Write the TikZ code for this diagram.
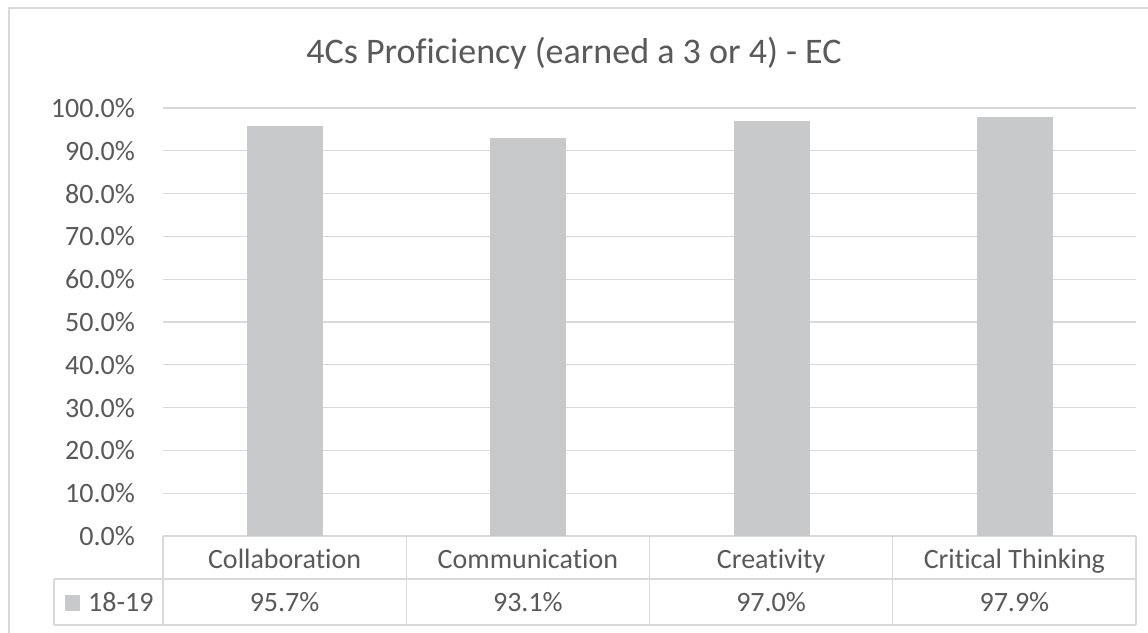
\documentclass[tikz,border=0pt]{standalone}
\usepackage{fontspec}
\setmainfont{Carlito}[Ligatures={NoCommon,NoContextual}]
\usepackage{tikz}
\definecolor{txtgray}{HTML}{595959}
\definecolor{gridgray}{HTML}{D9D9D9}
\definecolor{bargray}{HTML}{C8C9CB}
\tikzset{lbl/.style={text=txtgray,font=\fontsize{28}{30}\selectfont,inner sep=0pt},
  gline/.style={gridgray,line width=1.3pt}}

\begin{document}
\begin{tikzpicture}[x=1pt,y=-1pt]
\useasboundingbox (0,0) rectangle (1148,632);
\fill[white] (0,0) rectangle (1148,632);
\draw[gridgray,line width=1.6pt] (9,640) -- (9,8) -- (1160,8);
% title
\node[lbl,font=\fontsize{36}{40}\selectfont,anchor=base] (title) at (574,63) {4Cs Proficiency (earned a 3 or 4) - EC};
% grid and ticks
\foreach \v in {0,10,...,100} {
  \draw[gline] (163,{536-4.28*\v}) -- (1136,{536-4.28*\v});
  \node[lbl,anchor=east] (tick\v) at (135,{536-4.28*\v}) {\v.0\%};
}
% bars
\fill[bargray] (247,536) rectangle (323,{536-4.28*95.7});
\fill[bargray] (490.25,536) rectangle (566.25,{536-4.28*93.1});
\fill[bargray] (733.5,536) rectangle (809.5,{536-4.28*97.0});
\fill[bargray] (976.75,536) rectangle (1052.75,{536-4.28*97.9});
% data table
\draw[gline] (54,579) -- (1136,579);
\draw[gline] (54,625) -- (1136,625);
\draw[gline] (54,579) -- (54,625);
\draw[gline] (163,536) -- (163,625);
\draw[gline] (406.25,536) -- (406.25,625);
\draw[gline] (649.5,536) -- (649.5,625);
\draw[gline] (892.75,536) -- (892.75,625);
\draw[gline] (1136,536) -- (1136,625);
\node[lbl,anchor=base] (collab) at (284.6,568) {Collaboration};
\node[lbl,anchor=base] (commun) at (527.9,568) {Communication};
\node[lbl,anchor=base] (creat) at (771.1,568) {Creativity};
\node[lbl,anchor=base] (critic) at (1014.4,568) {Critical Thinking};
\fill[bargray] (65,595) rectangle (80,611);
\node[lbl,anchor=base west] (series) at (88,611) {18-19};
\node[lbl,anchor=base] (vcollab) at (284.6,611) {95.7\%};
\node[lbl,anchor=base] (vcommun) at (527.9,611) {93.1\%};
\node[lbl,anchor=base] (vcreat) at (771.1,611) {97.0\%};
\node[lbl,anchor=base] (vcritic) at (1014.4,611) {97.9\%};
\end{tikzpicture}
\end{document}
